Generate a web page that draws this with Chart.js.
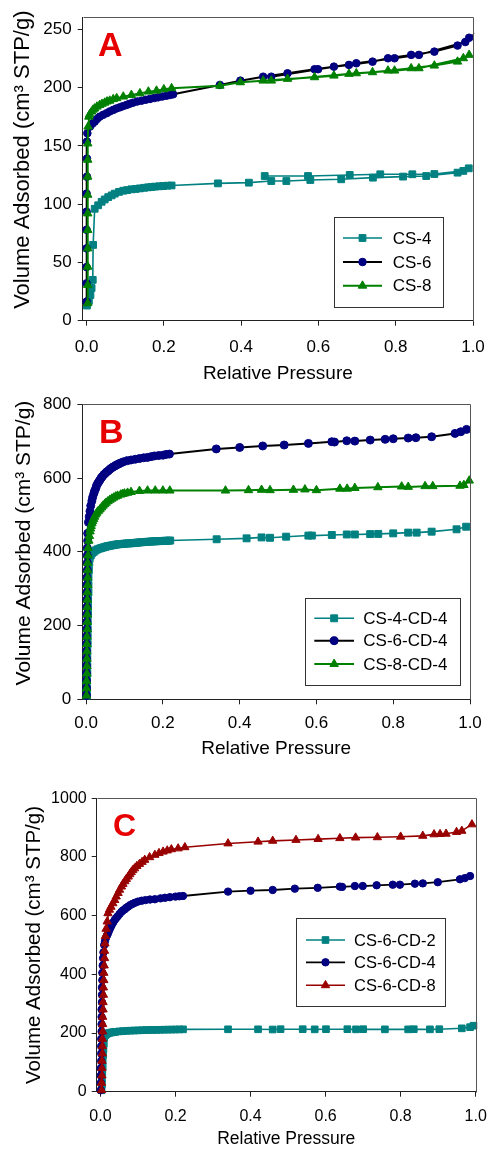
<!DOCTYPE html>
<html>
<head>
<meta charset="utf-8">
<script src="https://cdn.jsdelivr.net/npm/chart.js@4.4.1/dist/chart.umd.min.js"></script>
<style>
  html, body { margin: 0; padding: 0; background: #fff; }
  #wrap { position: relative; width: 489px; height: 1150px; overflow: hidden; }
  canvas { position: absolute; left: 0; }
</style>
</head>
<body>
<div id="wrap">
  <canvas id="chartA" width="489" height="385" style="top:0px"></canvas>
  <canvas id="chartB" width="489" height="375" style="top:385px"></canvas>
  <canvas id="chartC" width="489" height="390" style="top:760px"></canvas>
</div>
<script>
// ---- axis ticks ----
const xTicks = [0, 0.2, 0.4, 0.6, 0.8, 1.0];
const yTicksA = [0, 50, 100, 150, 200, 250];
const yTicksB = [0, 200, 400, 600, 800];
const yTicksC = [0, 200, 400, 600, 800, 1000];

// ---- legend labels ----
const labelsA = ['CS-4', 'CS-6', 'CS-8'];
const labelsB = ['CS-4-CD-4', 'CS-6-CD-4', 'CS-8-CD-4'];
const labelsC = ['CS-6-CD-2', 'CS-6-CD-4', 'CS-6-CD-8'];

// ---- panel A (adsorption then desorption) ----
const cs4A_P = [0.001, 0.006, 0.010, 0.013, 0.016, 0.017, 0.021, 0.030, 0.039, 0.047, 0.056, 0.065, 0.073, 0.084, 0.095,
  0.105, 0.116, 0.127, 0.138, 0.149, 0.159, 0.168, 0.177, 0.188, 0.198, 0.209, 0.220, 0.340, 0.420, 0.478,
  0.517, 0.579, 0.659, 0.741, 0.819, 0.879, 0.960, 0.989, 0.975, 0.900, 0.843, 0.760, 0.681, 0.573, 0.461];
const cs4A_V = [13, 17, 22, 28, 35, 65, 96, 99, 102, 104, 106, 107.5, 109, 110.5, 111.5,
  112, 112.7, 113, 113.5, 114, 114.4, 114.7, 115, 115.3, 115.5, 115.8, 116, 117.8, 118.4, 119.8,
  119.8, 120.7, 121.3, 122.7, 123.6, 124.1, 127, 130.7, 128.5, 125.8, 125.6, 125.6, 125, 124.1, 124.1];

const cs6A_P = [0.000, 0.000, 0.000, 0.000, 0.000, 0.000, 0.000, 0.001, 0.001, 0.001, 0.002,
  0.009, 0.015, 0.021, 0.027, 0.034, 0.043, 0.052, 0.060, 0.069, 0.077, 0.086, 0.094, 0.103,
  0.111, 0.120, 0.131, 0.142, 0.153, 0.164, 0.175, 0.185, 0.196, 0.207, 0.216, 0.224,
  0.345, 0.398, 0.457, 0.520, 0.590, 0.640, 0.679, 0.740, 0.780, 0.840, 0.900, 0.960, 0.990,
  0.980, 0.860, 0.797, 0.698, 0.599, 0.478];
const cs6A_V = [16.3, 32, 46, 62, 78, 93.5, 109, 123.5, 139, 153.6, 160.8,
  166.5, 169, 170.7, 173, 175, 176.6, 178, 179.5, 180.8, 182, 183, 184, 185,
  186, 187, 188, 188.7, 189.5, 190.2, 191, 191.6, 192.3, 193, 193.6, 194.2,
  202.2, 205.9, 209.3, 212.2, 215.7, 217.9, 219.4, 222.2, 225.1, 228, 230.8, 236, 242.7,
  239, 228, 225.1, 220.8, 215.7, 209.3];

const cs8A_P = [0.003, 0.003, 0.003, 0.003, 0.003, 0.003, 0.003, 0.003, 0.003, 0.003, 0.004, 0.006,
  0.008, 0.013, 0.017, 0.021, 0.027, 0.034, 0.040, 0.047, 0.053, 0.060, 0.069, 0.078, 0.095,
  0.116, 0.138, 0.160, 0.181, 0.200, 0.220,
  0.345, 0.398, 0.457, 0.520, 0.590, 0.640, 0.679, 0.740, 0.780, 0.840, 0.900, 0.960, 0.990,
  0.975, 0.860, 0.797, 0.698, 0.478];
const cs8A_V = [15, 30.6, 46.3, 62, 77.8, 92, 108, 123.5, 138, 152, 166.5, 175,
  177, 179.3, 181, 182, 183.6, 185, 186, 187, 188, 188.7, 190, 190.8, 192.2,
  193.6, 195, 196.5, 197.3, 198.5, 199.4,
  201.5, 204.5, 205.9, 207.4, 208.8, 210.2, 211.7, 213.1, 214.5, 216.5, 218.8, 222.2, 228,
  225.1, 216.5, 214.5, 212.2, 205.9];

// ---- panel B ----
const cs4B_P = [0.002, 0.002, 0.002, 0.003, 0.003, 0.003, 0.003, 0.004, 0.004, 0.004,
  0.004, 0.005, 0.005, 0.005, 0.006, 0.006, 0.006, 0.007, 0.008, 0.009,
  0.012, 0.015, 0.020, 0.025, 0.030, 0.036, 0.040, 0.045, 0.050, 0.055,
  0.060, 0.065, 0.070, 0.075, 0.080, 0.085, 0.090, 0.095, 0.100, 0.105,
  0.110, 0.115, 0.120, 0.125, 0.130, 0.135, 0.140, 0.145, 0.152, 0.158,
  0.164, 0.170, 0.175, 0.180, 0.185, 0.190, 0.195, 0.200, 0.205, 0.210,
  0.215, 0.219,
  0.340, 0.418, 0.457, 0.479, 0.521, 0.579, 0.588, 0.640, 0.679, 0.700,
  0.740, 0.761, 0.800, 0.839, 0.861, 0.900, 0.965, 0.990];
const cs4B_V = [10, 30, 50, 70, 90, 110, 130, 150, 170, 190,
  210, 230, 250, 270, 290, 310, 330, 350, 370, 382,
  390, 396, 400, 404, 407, 409, 410.5, 412, 413.5, 415,
  416, 417, 418, 419, 420, 420.5, 421, 421.5, 422, 422.5,
  422.8, 423, 423.5, 424, 424.5, 425, 425.5, 426, 426.5, 427,
  427.5, 428, 428.2, 428.5, 428.8, 429, 429.2, 429.5, 429.8, 430,
  430.2, 430.5,
  434, 436.5, 439, 438, 441, 444, 444, 445.6, 447, 447,
  448, 448.5, 450, 452, 452, 454.6, 461, 468];

const cs6B_P = [0.001, 0.001, 0.001, 0.001, 0.001, 0.001, 0.001, 0.001, 0.001, 0.002,
  0.002, 0.002, 0.002, 0.002, 0.002, 0.002, 0.002, 0.003, 0.003, 0.003,
  0.003, 0.004, 0.004,
  0.006, 0.008, 0.010, 0.012, 0.015, 0.017, 0.020, 0.022, 0.025, 0.027,
  0.030, 0.033, 0.036, 0.039, 0.042, 0.046, 0.050, 0.054, 0.058, 0.062,
  0.066, 0.070, 0.074, 0.078, 0.082, 0.086, 0.090, 0.097, 0.107, 0.117,
  0.128, 0.139, 0.150, 0.160, 0.169, 0.178, 0.189, 0.200, 0.208, 0.217,
  0.339, 0.400, 0.460, 0.516, 0.579, 0.640, 0.647, 0.679, 0.700, 0.740,
  0.779, 0.800, 0.839, 0.859, 0.900, 0.961, 0.976, 0.991];
const cs6B_V = [10, 30, 50, 70, 90, 110, 130, 150, 170, 190,
  210, 230, 250, 270, 290, 310, 330, 350, 370, 390,
  410, 430, 450,
  480, 495, 510, 525, 538, 548, 558, 565, 572, 579,
  585, 590, 595, 600, 604, 609, 613, 617, 620, 624,
  627, 630, 632, 635, 637, 639, 641, 644, 647, 649,
  651, 653, 655, 656, 658, 660, 661, 662, 664, 665,
  679, 683, 687, 689.6, 694, 698.5, 697.6, 701, 700.2, 703,
  705, 706.5, 708.5, 709.4, 712, 721, 725.6, 732];

const cs8B_P = [0.001, 0.001, 0.001, 0.002, 0.002, 0.002, 0.002, 0.002, 0.002, 0.003,
  0.003, 0.003, 0.003, 0.003, 0.003, 0.004, 0.004, 0.004, 0.004, 0.005,
  0.005,
  0.007, 0.0085, 0.010, 0.0115, 0.013, 0.015, 0.017, 0.0195, 0.022, 0.025,
  0.028, 0.032, 0.036, 0.040, 0.044, 0.048, 0.052, 0.057, 0.062, 0.067,
  0.072, 0.077, 0.082, 0.090, 0.095, 0.100, 0.108, 0.117, 0.139, 0.160,
  0.180, 0.200, 0.218,
  0.363, 0.423, 0.457, 0.479, 0.540, 0.570, 0.600, 0.661, 0.680, 0.700,
  0.760, 0.822, 0.839, 0.883, 0.903, 0.974, 0.984, 0.998];
const cs8B_V = [10, 30, 50, 70, 90, 110, 130, 150, 170, 190,
  210, 230, 250, 270, 290, 310, 330, 350, 370, 390,
  410,
  430, 443, 455, 463, 470, 477, 483, 489, 495, 501,
  506, 511, 515, 520, 525, 529, 533, 537, 541, 544,
  547, 550, 552, 555, 557, 558, 560, 562, 565, 566,
  566, 566, 566,
  566, 567, 568, 567, 568, 569, 567, 571, 571, 573,
  575, 577, 576, 578, 578, 579, 581, 593];

// ---- panel C ----
const cd2C_P = [0.003, 0.004, 0.004, 0.005, 0.006, 0.006, 0.007, 0.008, 0.009, 0.010,
  0.013, 0.016, 0.020, 0.025, 0.030, 0.035, 0.040, 0.050, 0.060, 0.070,
  0.080, 0.090, 0.100, 0.110, 0.120, 0.130, 0.140, 0.150, 0.160, 0.170,
  0.180, 0.190, 0.200, 0.210, 0.220,
  0.340, 0.420, 0.459, 0.480, 0.539, 0.571, 0.601, 0.658, 0.681, 0.700,
  0.758, 0.820, 0.835, 0.878, 0.903, 0.963, 0.985, 0.994];
const cd2C_V = [5, 25, 45, 65, 85, 105, 125, 145, 165, 185,
  193, 196, 199, 201, 202, 203, 204, 205.5, 206.5, 207.5,
  208, 208.5, 209, 209.5, 210, 210.2, 210.5, 210.8, 211, 211.3,
  211.5, 211.8, 212, 212.3, 212.5,
  212.7, 212.7, 212, 213, 213, 212.5, 213, 213, 212.5, 213,
  212.5, 212.5, 213, 212.5, 213, 216, 220, 225];

const cd4C_P = [0.001, 0.001, 0.001, 0.001, 0.002, 0.002, 0.002, 0.002, 0.003, 0.003,
  0.003, 0.003, 0.004, 0.004, 0.004, 0.005, 0.005, 0.006, 0.007,
  0.008, 0.010, 0.012, 0.015, 0.0175, 0.020, 0.0225, 0.025, 0.0275, 0.030,
  0.034, 0.038, 0.042, 0.046, 0.051, 0.056, 0.060, 0.065, 0.069, 0.074,
  0.079, 0.085, 0.092, 0.100, 0.110, 0.120, 0.132, 0.145, 0.160, 0.172,
  0.185, 0.200, 0.210, 0.220,
  0.340, 0.400, 0.459, 0.518, 0.579, 0.638, 0.644, 0.678, 0.699, 0.736,
  0.779, 0.798, 0.838, 0.859, 0.899, 0.958, 0.971, 0.985];
const cd4C_V = [5, 30, 55, 80, 105, 130, 155, 180, 205, 230,
  255, 280, 305, 330, 355, 380, 405, 430, 455,
  475, 500, 512, 525, 533, 540, 548, 555, 562, 568,
  577, 585, 592, 598, 606, 613, 618, 622, 627, 631,
  636, 640, 644, 648, 651, 653, 655, 656, 659, 661,
  663, 665, 666, 667,
  682, 685, 687.5, 692, 695, 699, 698, 701, 701, 703.5,
  705.5, 705.5, 709, 710, 714, 724, 728, 735];

const cd8C_P = [0.003, 0.003, 0.004, 0.004, 0.004, 0.005, 0.005, 0.005, 0.006, 0.006,
  0.006, 0.007, 0.007, 0.008, 0.008, 0.009, 0.009, 0.010, 0.011, 0.011,
  0.012, 0.013, 0.015,
  0.018, 0.020, 0.024, 0.028, 0.033, 0.038, 0.042, 0.047, 0.051, 0.056,
  0.060, 0.065, 0.069, 0.074, 0.078, 0.082, 0.086, 0.091, 0.097, 0.104,
  0.111, 0.118, 0.131, 0.145, 0.156, 0.167, 0.178, 0.189, 0.207, 0.225,
  0.340, 0.420, 0.459, 0.521, 0.580, 0.638, 0.680, 0.738, 0.800, 0.859,
  0.889, 0.905, 0.921, 0.949, 0.963, 0.990];
const cd8C_V = [5, 30, 55, 80, 105, 130, 155, 180, 205, 230,
  255, 280, 305, 330, 355, 380, 405, 430, 455, 480,
  505, 530, 555,
  580, 608, 620, 630, 642, 653, 665, 677, 688, 699,
  708, 717, 725, 733, 741, 748, 755, 761, 769, 776,
  783, 790, 799, 807, 813, 818, 822, 826, 829, 833,
  846, 852, 855, 858, 861, 864, 866, 867, 869, 872,
  877, 878, 879, 885, 889, 911];

// ---- styles ----
const FONT = "'Liberation Sans', Arial, sans-serif";
const TEAL = '#008080';
const NAVY = '#000080';
const GREEN = '#008000';
const MAROON = '#990000';
const BLACK = '#000000';
const AXIS = '#222222';
const Y_TITLE = 'Volume Adsorbed (cm\u00B3 STP/g)';

Chart.defaults.font.family = FONT;
Chart.defaults.color = '#000';

// frame, panel letter and the boxed legend
function makeDecor(p) {
  return {
    id: 'panelDecor',
    afterDraw(chart) {
      const ctx = chart.ctx;
      const a = chart.chartArea;
      ctx.save();

      // top and right edges of the plot frame
      const l = Math.round(a.left) + 0.5, r = Math.round(a.right) + 0.5;
      const t = Math.round(a.top) + 0.5, b = Math.round(a.bottom) + 0.5;
      ctx.strokeStyle = '#555';
      ctx.lineWidth = 1;
      ctx.beginPath();
      ctx.moveTo(l, t); ctx.lineTo(r, t); ctx.lineTo(r, b);
      ctx.stroke();

      // panel letter
      ctx.fillStyle = '#e60000';
      ctx.font = 'bold ' + p.letterSize + 'px ' + FONT;
      ctx.textBaseline = 'alphabetic';
      ctx.textAlign = 'left';
      ctx.fillText(p.letter, p.letterX, p.letterY);

      // legend
      const lg = p.legend;
      ctx.fillStyle = '#fff';
      ctx.fillRect(lg.box[0], lg.box[1], lg.box[2] - lg.box[0], lg.box[3] - lg.box[1]);
      ctx.strokeStyle = '#333';
      ctx.strokeRect(Math.round(lg.box[0]) + 0.5, Math.round(lg.box[1]) + 0.5,
        Math.round(lg.box[2] - lg.box[0]), Math.round(lg.box[3] - lg.box[1]));

      ctx.font = lg.size + 'px ' + FONT;
      ctx.textBaseline = 'middle';
      p.series.forEach((s, i) => {
        const y = lg.rows[i];
        ctx.strokeStyle = s.line;
        ctx.lineWidth = s.lw;
        ctx.beginPath();
        ctx.moveTo(lg.line[0], y);
        ctx.lineTo(lg.line[1], y);
        ctx.stroke();
        ctx.fillStyle = s.color;
        ctx.strokeStyle = s.color;
        ctx.lineWidth = 1;
        Chart.helpers.drawPoint(ctx, { pointStyle: s.style, radius: s.r, rotation: 0, borderWidth: 1 },
          (lg.line[0] + lg.line[1]) / 2, y);
        ctx.fillStyle = '#000';
        ctx.fillText(s.label, lg.textX, y + 1);
      });
      ctx.restore();
    }
  };
}

function buildPanel(p) {
  const datasets = p.series.map((s, i) => ({
    label: s.label,
    data: s.x.map((x, k) => ({ x: x, y: s.y[k] })),
    showLine: true,
    tension: 0,
    borderColor: s.line,
    borderWidth: s.lw,
    pointStyle: s.style,
    pointRadius: s.r,
    pointHoverRadius: s.r,
    pointBackgroundColor: s.color,
    pointBorderColor: s.color,
    pointBorderWidth: 1,
    clip: false,
    order: p.series.length - i
  }));

  return new Chart(document.getElementById(p.id), {
    type: 'scatter',
    data: { datasets: datasets },
    options: {
      responsive: false,
      animation: false,
      devicePixelRatio: 1,
      layout: { padding: { left: 0, top: p.padTop, right: p.padRight, bottom: 0 } },
      plugins: { legend: { display: false }, tooltip: { enabled: false } },
      scales: {
        x: {
          type: 'linear',
          min: -0.01,
          max: 1.0,
          afterBuildTicks: sc => { sc.ticks = xTicks.map(v => ({ value: v })); },
          afterFit: sc => { sc.height = p.xAxisH; sc.paddingLeft = 0; sc.paddingRight = 0; },
          ticks: {
            font: { size: p.tickSize },
            color: '#000',
            padding: p.xTickPad,
            maxRotation: 0,
            autoSkip: false,
            callback: v => v.toFixed(1)
          },
          grid: { drawOnChartArea: false, drawTicks: true, tickLength: 5, color: AXIS },
          border: { color: AXIS, width: 1 },
          title: {
            display: true,
            text: 'Relative Pressure',
            font: { size: p.xTitleSize },
            color: '#000',
            padding: 0
          }
        },
        y: {
          type: 'linear',
          min: 0,
          max: p.yMax,
          afterBuildTicks: sc => { sc.ticks = p.yTicks.map(v => ({ value: v })); },
          afterFit: sc => { sc.width = p.yAxisW; sc.paddingTop = 0; sc.paddingBottom = 0; },
          ticks: {
            font: { size: p.tickSize },
            color: '#000',
            padding: p.yTickPad,
            autoSkip: false,
            callback: v => String(v)
          },
          grid: { drawOnChartArea: false, drawTicks: true, tickLength: 5, color: AXIS },
          border: { color: AXIS, width: 1 },
          title: {
            display: true,
            // leading spaces nudge the centred title up a little, as in the figure
            text: p.yTitleLead + Y_TITLE,
            font: { size: p.yTitleSize },
            color: '#000',
            padding: { top: p.yTitlePad, bottom: 0 }
          }
        }
      }
    },
    plugins: [makeDecor(p)]
  });
}

const panelA = {
  id: 'chartA', letter: 'A', letterX: 98, letterY: 56, letterSize: 34,
  yMax: 260.5, yTicks: yTicksA,
  padTop: 17, padRight: 16, yAxisW: 82.7, xAxisH: 64.3,
  tickSize: 17, xTickPad: 11, yTickPad: 6, xTitleSize: 19, yTitleSize: 22, yTitlePad: 10, yTitleLead: '   ',
  legend: { box: [333.7, 216.7, 442.3, 307], rows: [238, 262, 285.7], line: [343, 382], textX: 392.7, size: 17 },
  series: [
    { label: labelsA[0], x: cs4A_P, y: cs4A_V, color: TEAL, line: TEAL, lw: 1.6, style: 'rect', r: 4.8 },
    { label: labelsA[1], x: cs6A_P, y: cs6A_V, color: NAVY, line: BLACK, lw: 2, style: 'circle', r: 3.8 },
    { label: labelsA[2], x: cs8A_P, y: cs8A_V, color: GREEN, line: GREEN, lw: 2, style: 'triangle', r: 4.9 }
  ]
};

const panelB = {
  id: 'chartB', letter: 'B', letterX: 99, letterY: 58, letterSize: 34,
  yMax: 800, yTicks: yTicksB,
  padTop: 19.3, padRight: 19, yAxisW: 82.3, xAxisH: 60.7,
  tickSize: 17, xTickPad: 9, yTickPad: 6, xTitleSize: 19, yTitleSize: 21, yTitlePad: 11.4, yTitleLead: '   ',
  legend: { box: [305, 212.7, 460, 300], rows: [233.3, 255.7, 279], line: [314.3, 354], textX: 363.3, size: 17 },
  series: [
    { label: labelsB[0], x: cs4B_P, y: cs4B_V, color: TEAL, line: TEAL, lw: 1.6, style: 'rect', r: 4.9 },
    { label: labelsB[1], x: cs6B_P, y: cs6B_V, color: NAVY, line: BLACK, lw: 2, style: 'circle', r: 4 },
    { label: labelsB[2], x: cs8B_P, y: cs8B_V, color: GREEN, line: GREEN, lw: 2, style: 'triangle', r: 4.9 }
  ]
};

const panelC = {
  id: 'chartC', letter: 'C', letterX: 113, letterY: 76, letterSize: 32,
  yMax: 1000, yTicks: yTicksC,
  padTop: 38.3, padRight: 13.3, yAxisW: 96.7, xAxisH: 58.3,
  tickSize: 16, xTickPad: 10, yTickPad: 5, xTitleSize: 17.5, yTitleSize: 20.5, yTitlePad: 21.7, yTitleLead: '',
  legend: { box: [296.3, 157.7, 445, 246], rows: [180, 202.3, 225.3], line: [306, 345], textX: 354, size: 16.5 },
  series: [
    { label: labelsC[0], x: cd2C_P, y: cd2C_V, color: TEAL, line: TEAL, lw: 1.6, style: 'rect', r: 4.7 },
    { label: labelsC[1], x: cd4C_P, y: cd4C_V, color: NAVY, line: BLACK, lw: 1.8, style: 'circle', r: 3.7 },
    { label: labelsC[2], x: cd8C_P, y: cd8C_V, color: MAROON, line: MAROON, lw: 1.6, style: 'triangle', r: 4.8 }
  ]
};

buildPanel(panelA);
buildPanel(panelB);
buildPanel(panelC);
</script>
</body>
</html>
